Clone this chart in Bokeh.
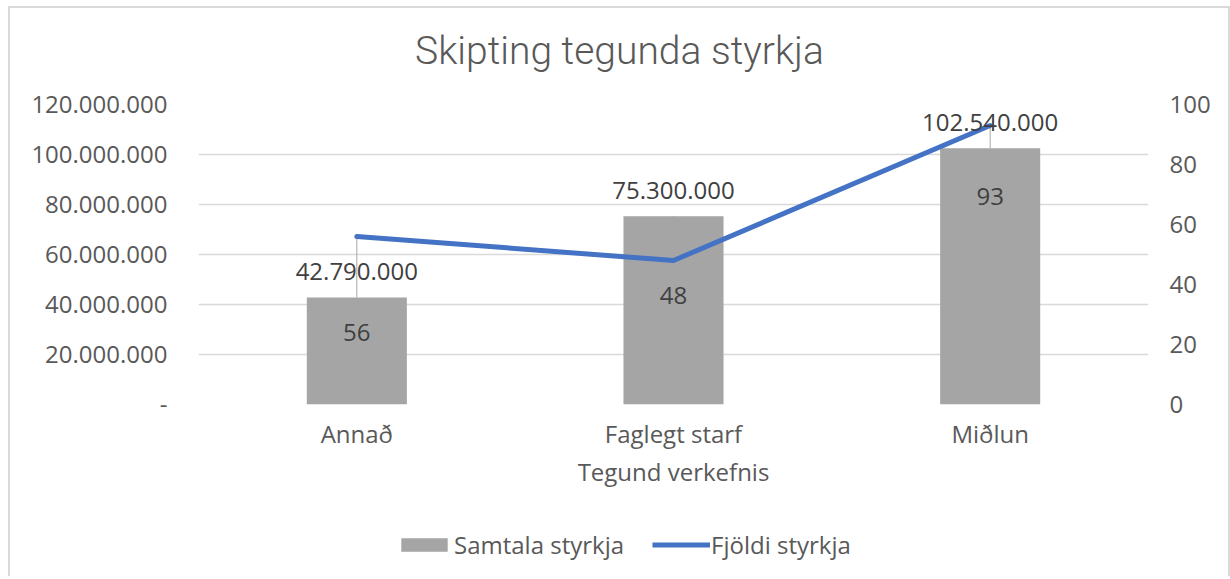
from bokeh.plotting import figure
from bokeh.layouts import column
from bokeh.models import (Range1d, LinearAxis, FixedTicker, Legend, LegendItem,
                          ColumnDataSource, FactorRange, Label)
from bokeh.embed import file_html
from bokeh.resources import INLINE
from bokeh.core.properties import value

# ---- data ----
categories = ["Annað", "Faglegt starf", "Miðlun"]
totals = [42790000, 75300000, 102540000]      # Samtala styrkja (left axis)
counts = [56, 48, 93]                          # Fjöldi styrkja (right axis)
left_ticks = [0, 20000000, 40000000, 60000000, 80000000, 100000000, 120000000]
right_ticks = [0, 20, 40, 60, 80, 100]
count_label_drop = [96, 35, 71]               # manual label placement (px below point)

LEFT_MAX = left_ticks[-1]
RIGHT_MAX = right_ticks[-1]


def fmt(v):
    return "-" if v == 0 else f"{v:,}".replace(",", ".")


FONT = value("Open Sans")
TXT = "#595959"
DARK = "#404040"
BAR = "#A5A5A5"
BLUE = "#4472C4"

src = ColumnDataSource(dict(
    cat=categories,
    total=totals,
    count=counts,
    total_lbl=[fmt(v) for v in totals],
    count_lbl=[str(c) for c in counts],
    lead_top=[c * LEFT_MAX / RIGHT_MAX for c in counts],
    drop=count_label_drop,
))


def strip(height):
    f = figure(width=1218, height=height, output_backend="svg",
               toolbar_location=None, x_range=Range1d(0, 1),
               y_range=Range1d(0, 1), x_axis_location=None,
               y_axis_location=None, min_border=0)
    f.grid.visible = False
    f.outline_line_color = None
    return f


# ---- title strip ----
tt = strip(80)
tt.add_layout(Label(x=421, y=38, x_units="screen", y_units="screen",
                    text="Skipting tegunda styrkja", text_align="center",
                    text_baseline="middle", text_font="Roboto Light",
                    text_font_size="39px", text_color=TXT))

# ---- main chart ----
p = figure(x_range=FactorRange(*categories), y_range=Range1d(0, LEFT_MAX),
           width=1218, height=432, output_backend="svg", toolbar_location=None,
           min_border_left=188, min_border_right=80, min_border_top=16,
           min_border_bottom=116)
p.extra_y_ranges = {"cnt": Range1d(0, RIGHT_MAX)}
p.x_range.range_padding = 0

p.outline_line_color = None
p.xgrid.grid_line_color = None
p.ygrid.grid_line_color = "#D9D9D9"
p.ygrid.grid_line_width = 1.3
p.ygrid.ticker = FixedTicker(ticks=left_ticks)

# leader lines (drawn first so the bars hide the part inside them)
p.segment(x0="cat", y0="total", x1="cat", y1="lead_top", source=src,
          line_color="#A6A6A6", line_width=1)

bars = p.vbar(x="cat", top="total", width=0.316, source=src,
              fill_color=BAR, line_color=None)

line = p.line(x="cat", y="count", source=src, y_range_name="cnt",
              line_color=BLUE, line_width=5, line_cap="round",
              line_join="round")

p.text(x="cat", y="total", text="total_lbl", source=src, text_align="center",
       text_baseline="middle", y_offset=-26, text_font=FONT,
       text_font_size="24px", text_color=DARK)

p.text(x="cat", y="count", text="count_lbl", source=src, y_range_name="cnt",
       text_align="center", text_baseline="middle", y_offset="drop",
       text_font=FONT, text_font_size="24px", text_color=DARK)

# ---- axes ----
ya = p.yaxis[0]
ya.ticker = FixedTicker(ticks=left_ticks)
ya.major_label_overrides = {t: fmt(t) for t in left_ticks}
ya.axis_line_color = None
ya.major_tick_line_color = None
ya.minor_tick_line_color = None
ya.major_label_standoff = 25
ya.major_label_text_font = "Open Sans"
ya.major_label_text_font_size = "24px"
ya.major_label_text_color = TXT

ra = LinearAxis(y_range_name="cnt", ticker=FixedTicker(ticks=right_ticks))
ra.axis_line_color = None
ra.major_tick_line_color = None
ra.minor_tick_line_color = None
ra.major_label_standoff = 15
ra.major_label_text_font = "Open Sans"
ra.major_label_text_font_size = "24px"
ra.major_label_text_color = TXT
p.add_layout(ra, "right")

xa = p.xaxis[0]
xa.axis_line_color = None
xa.major_tick_line_color = None
xa.minor_tick_line_color = None
xa.major_label_standoff = 6
xa.major_label_text_font = "Open Sans"
xa.major_label_text_font_size = "24px"
xa.major_label_text_color = TXT
xa.axis_label = "Tegund verkefnis"
xa.axis_label_standoff = 2
xa.axis_label_text_font = "Open Sans"
xa.axis_label_text_font_size = "24px"
xa.axis_label_text_font_style = "normal"
xa.axis_label_text_color = TXT

# ---- legend strip (its frame aligns with the chart's frame) ----
lg = strip(56)
# key-only renderers (zero-size, they only carry the legend styling)
k_bar = lg.vbar(x=[0.5], top=[0], bottom=[0], width=0, fill_color=BAR,
                line_color=None)
k_line = lg.line(x=[0.5], y=[0.5], line_color=BLUE, line_width=5)

leg = Legend(items=[LegendItem(label="Samtala styrkja", renderers=[k_bar]),
                    LegendItem(label="Fjöldi styrkja", renderers=[k_line])],
             location=(197, 15), orientation="horizontal",
             glyph_width=58, glyph_height=17, label_standoff=1, spacing=28,
             padding=0, margin=0, border_line_color=None,
             background_fill_alpha=0, label_text_font="Open Sans",
             label_text_font_size="24px", label_text_color=TXT)
lg.add_layout(leg, "center")

layout = column(tt, p, lg, spacing=0,
                styles={"margin-left": "8px", "margin-top": "6px",
                        "border-left": "2px solid #D9D9D9",
                        "border-top": "2px solid #D9D9D9",
                        "border-right": "2px solid #D9D9D9"})

open("out.html", "w").write(file_html(layout, INLINE))
